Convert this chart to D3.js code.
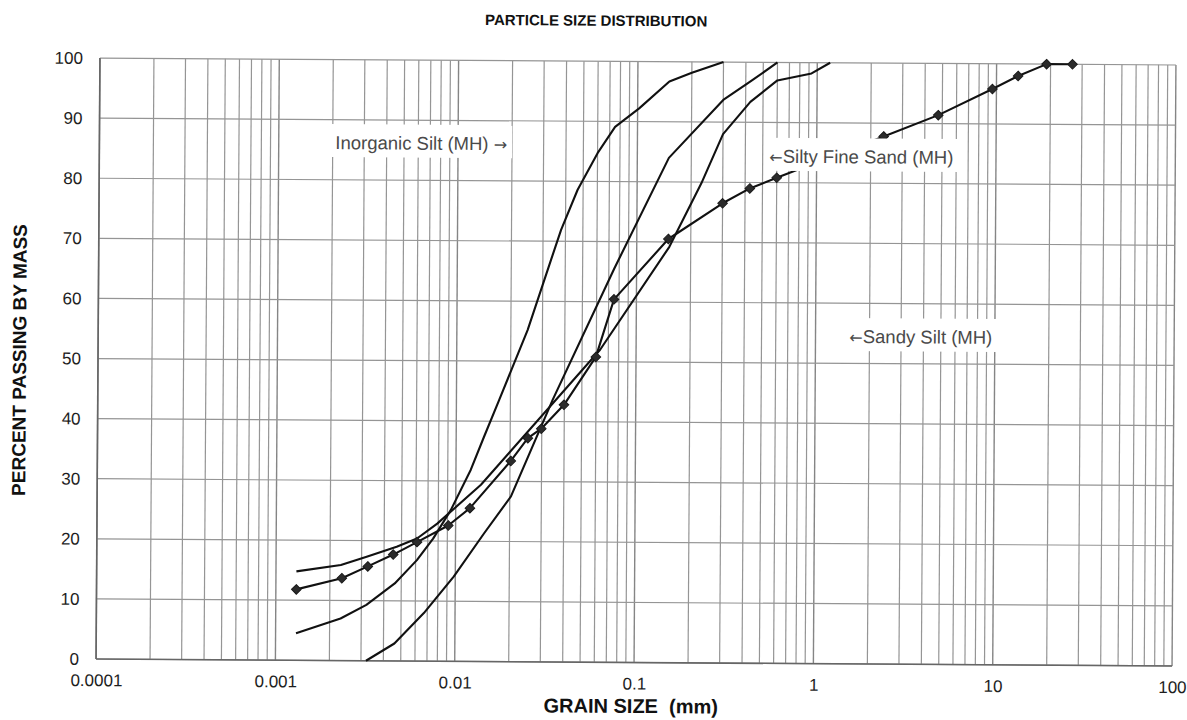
<!DOCTYPE html>
<html>
<head>
<meta charset="utf-8">
<title>Particle Size Distribution</title>
<script src="https://cdn.jsdelivr.net/npm/d3@7"></script>
<style>
  body { margin: 0; background: #fff; }
  svg { display: block; font-family: 'Liberation Sans', Arial, sans-serif; }
  .grid line { stroke: #959595; stroke-width: 1.2; }
  .grid line.major { stroke: #858585; stroke-width: 1.4; }
  .frame { stroke: #666; stroke-width: 1.6; }
  .axis text { font-size: 17px; fill: #1e1e1e; }
  .curve { fill: none; stroke: #111; stroke-width: 2.1; stroke-linejoin: round; }
  .marker { fill: #2b2b2b; stroke: #1a1a1a; stroke-width: 1; }
  .note text { font-size: 18.5px; fill: #4a4a4a; }
  .note .arrow { font-family: 'DejaVu Sans', sans-serif; font-size: 16px; }
  .title { font-weight: bold; fill: #111; }
</style>
</head>
<body>
<svg width="1187" height="720"></svg>
<script>
(function() {
  'use strict';

  const xTicks = [0.0001, 0.001, 0.01, 0.1, 1, 10, 100];
  const xTickLabels = ['0.0001', '0.001', '0.01', '0.1', '1', '10', '100'];
  const yTicks = [0, 10, 20, 30, 40, 50, 60, 70, 80, 90, 100];

  // Inorganic Silt (MH) - steepest curve
  const inorganicSize = [0.0013, 0.0023, 0.0032, 0.0046, 0.0061, 0.0075, 0.0094,
    0.0121, 0.0143, 0.0173, 0.0248, 0.0333, 0.0378, 0.0466, 0.060, 0.075,
    0.102, 0.15, 0.2, 0.3];
  const inorganicPass = [4.5, 7.0, 9.3, 12.9, 16.8, 20.4, 25.2,
    31.9, 37.4, 43.5, 55.2, 66.9, 71.9, 78.6, 84.7, 89.1,
    92.2, 96.7, 98.2, 100];

  // curve starting at zero
  const midSize = [0.0032, 0.0046, 0.0067, 0.0098, 0.0144, 0.0203, 0.0344,
    0.075, 0.15, 0.3, 0.425, 0.6];
  const midPass = [0, 2.9, 8.0, 14.1, 21.3, 27.5, 43.6,
    65.5, 84.0, 93.7, 96.8, 100];

  // flattest curve at the fine end
  const flatSize = [0.0013, 0.0023, 0.0032, 0.0047, 0.0061, 0.0079, 0.0138,
    0.063, 0.152, 0.228, 0.3, 0.425, 0.6, 0.93, 1.18];
  const flatPass = [14.8, 15.9, 17.3, 19.0, 20.4, 22.9, 29.4,
    52.0, 69.2, 79.8, 88.0, 93.4, 97.0, 98.2, 100];

  // Silty Fine Sand (MH) - hydrometer + sieve points, with markers
  const sandSize = [0.0013, 0.00233, 0.00325, 0.0045, 0.0061, 0.0091, 0.012,
    0.0202, 0.0251, 0.0298, 0.0398, 0.0597, 0.075, 0.15, 0.3, 0.425, 0.6,
    2.36, 4.75, 9.5, 13.2, 19, 26.5];
  const sandPass = [11.8, 13.7, 15.7, 17.7, 19.8, 22.6, 25.5,
    33.4, 37.2, 38.8, 42.8, 50.8, 60.4, 70.5, 76.5, 79.0, 80.8,
    87.8, 91.4, 95.8, 98.0, 100, 100];

  const noteText = ['Inorganic Silt (MH) \u2192', '\u2190Silty Fine Sand (MH)', '\u2190Sandy Silt (MH)'];
  const noteAt = [[0.00207, 85.1], [0.545, 83.3], [1.545, 53.4]];

  const margin = {
    top: 61.5,
    right: 13,
    bottom: 57.5,
    left: 98,
  };

  const svg = d3.select('svg');
  const width = +svg.attr('width') - margin.left - margin.right;
  const height = +svg.attr('height') - margin.top - margin.bottom;

  // the scanned sheet is slightly skewed
  const root = svg.append('g')
      .attr('transform', 'rotate(0.37,636,362)');

  const g = root.append('g')
      .attr('transform', 'translate(' + margin.left + ',' + margin.top + ')');

  const x = d3.scaleLog()
      .domain([0.0001, 100])
      .range([0, width]);

  const y = d3.scaleLinear()
      .domain([0, 100])
      .range([height, 0]);

  const isDecade = (d) => {
    const l = Math.log10(d);
    return Math.abs(l - Math.round(l)) < 1e-6;
  };

  // grid
  const grid = g.append('g').attr('class', 'grid');
  grid.selectAll('line.v')
      .data(x.ticks())
      .enter().append('line')
      .attr('class', (d) => isDecade(d) ? 'v major' : 'v')
      .attr('x1', (d) => x(d))
      .attr('x2', (d) => x(d))
      .attr('y1', 0)
      .attr('y2', height);
  grid.selectAll('line.h')
      .data(yTicks)
      .enter().append('line')
      .attr('class', 'h')
      .attr('x1', 0)
      .attr('x2', width)
      .attr('y1', (d) => y(d))
      .attr('y2', (d) => y(d));

  g.append('line')
      .attr('class', 'frame')
      .attr('x1', 0).attr('x2', 0)
      .attr('y1', 0).attr('y2', height);
  g.append('line')
      .attr('class', 'frame')
      .attr('x1', 0).attr('x2', width)
      .attr('y1', height).attr('y2', height);

  // axes (labels only)
  g.append('g')
      .attr('class', 'axis axis--y')
      .call(d3.axisLeft(y)
          .tickValues(yTicks)
          .tickSize(0)
          .tickPadding(17)
      )
      .call((a) => a.select('.domain').remove());

  g.append('g')
      .attr('class', 'axis axis--x')
      .attr('transform', 'translate(0,' + height + ')')
      .call(d3.axisBottom(x)
          .tickValues(xTicks)
          .tickFormat((d, i) => xTickLabels[i])
          .tickSize(0)
          .tickPadding(15)
      )
      .call((a) => a.select('.domain').remove());

  g.selectAll('.axis').attr('font-family', null).attr('font-size', null);

  const line = d3.line()
      .x((d) => x(d[0]))
      .y((d) => y(d[1]));

  const series = [
    d3.zip(inorganicSize, inorganicPass),
    d3.zip(midSize, midPass),
    d3.zip(flatSize, flatPass),
    d3.zip(sandSize, sandPass),
  ];

  g.append('g')
      .selectAll('path')
      .data(series)
      .enter().append('path')
      .attr('class', 'curve')
      .attr('d', line);

  g.append('g')
      .selectAll('path')
      .data(series[3])
      .enter().append('path')
      .attr('class', 'marker')
      .attr('d', 'M0,-4.8L4.8,0L0,4.8L-4.8,0Z')
      .attr('transform', (d) => 'translate(' + x(d[0]) + ',' + y(d[1]) + ')');

  // labels with white boxes over the plot
  const notes = g.append('g').attr('class', 'note');
  noteText.forEach((t, i) => {
    const n = notes.append('g');
    const txt = n.append('text')
        .attr('x', x(noteAt[i][0]))
        .attr('y', y(noteAt[i][1]));
    t.split(/([\u2190\u2192])/).filter((s) => s.length).forEach((s) => {
      txt.append('tspan')
          .attr('class', /[\u2190\u2192]/.test(s) ? 'arrow' : null)
          .text(s);
    });
    const b = txt.node().getBBox();
    n.insert('rect', 'text')
        .attr('x', b.x - 5)
        .attr('y', b.y - 8)
        .attr('width', b.width + 10)
        .attr('height', b.height + 12)
        .attr('fill', '#fff');
  });

  // titles
  root.append('text')
      .attr('class', 'title')
      .attr('x', 594)
      .attr('y', 26)
      .attr('text-anchor', 'middle')
      .attr('font-size', 15)
      .text('PARTICLE SIZE DISTRIBUTION');

  root.append('text')
      .attr('class', 'title')
      .attr('transform', 'translate(26,364) rotate(-90)')
      .attr('text-anchor', 'middle')
      .attr('font-size', 19)
      .text('PERCENT PASSING BY MASS');

  root.append('text')
      .attr('class', 'title')
      .attr('x', 633)
      .attr('y', 713)
      .attr('text-anchor', 'middle')
      .attr('font-size', 20)
      .attr('xml:space', 'preserve')
      .style('white-space', 'pre')
      .text('GRAIN SIZE  (mm)');
})();
</script>
</body>
</html>
